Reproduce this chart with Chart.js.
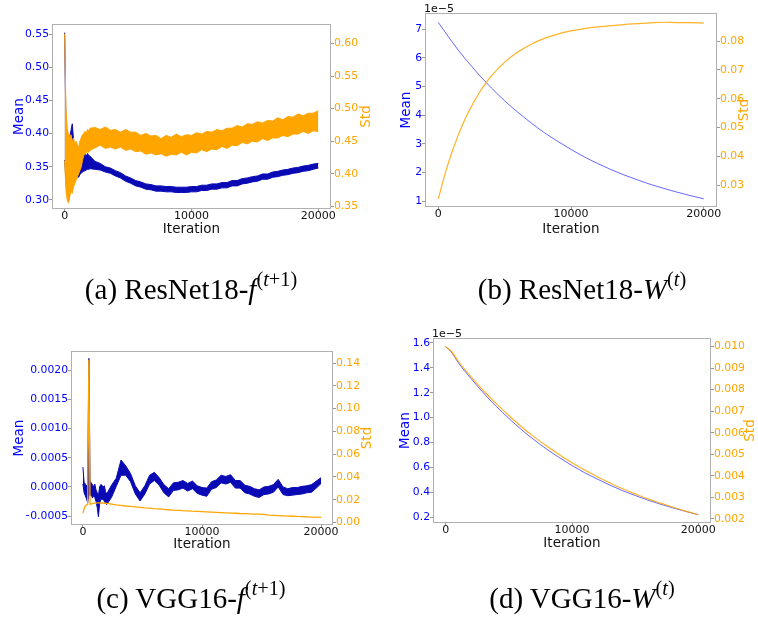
<!DOCTYPE html>
<html>
<head>
<meta charset="utf-8">
<script src="https://cdn.jsdelivr.net/npm/chart.js@4.4.1/dist/chart.umd.min.js"></script>
<style>
  html, body { margin: 0; padding: 0; background: #fff; }
  #wrap { position: relative; width: 758px; height: 622px; overflow: hidden; }
  canvas { position: absolute; left: 0; top: 0; }
  .cap { position: absolute; font-family: "Liberation Serif", "Times New Roman", serif; font-size: 29px;
         line-height: 30px; white-space: nowrap; color: #000; transform: translateX(-50%); }
  .cap .sp { font-size: 0.7em; position: relative; top: -0.62em; }
</style>
</head>
<body>
<div id="wrap">
  <canvas id="ca" width="758" height="622"></canvas>
  <canvas id="cb" width="758" height="622"></canvas>
  <canvas id="cc" width="758" height="622"></canvas>
  <canvas id="cd" width="758" height="622"></canvas>
  <div class="cap" style="left:191px;top:274px">(a) ResNet18-<i>f</i><span class="sp">(<i>t</i>+1)</span></div>
  <div class="cap" style="left:582px;top:274px">(b) ResNet18-<i>W</i><span class="sp">(<i>t</i>)</span></div>
  <div class="cap" style="left:191px;top:583px">(c) VGG16-<i>f</i><span class="sp">(<i>t</i>+1)</span></div>
  <div class="cap" style="left:582px;top:583px">(d) VGG16-<i>W</i><span class="sp">(<i>t</i>)</span></div>
</div>
<script>
const W = 758, H = 622;
const SIDE = 45, BASE = 30;

function steps(from, to, step) {
  const out = [];
  for (let v = from; v <= to; v += step) out.push(v);
  return out;
}

// iteration grids
const xTicks = [0, 10000, 20000];
const fineIter = steps(0, 2000, 100).concat(steps(2400, 20000, 400));
const bIter = [0, 500, 1000, 1500, 2000, 2500, 3000, 3500, 4000, 5000, 6000, 7000, 8000, 9000,
  10000, 11000, 12000, 13000, 14000, 15000, 16000, 17000, 18000, 19000, 20000];
const dIter = [0, 500, 1000, 2000, 3000, 4000, 5000, 6000, 7000, 8000, 9000, 10000,
  11000, 12000, 13000, 14000, 15000, 16000, 17000, 18000, 19000, 20000];

// (a) ResNet18 f : noisy bands, upper / lower edge
const aMeanHi = [0.553, 0.41, 0.40, 0.385, 0.395, 0.405, 0.415, 0.39, 0.375, 0.37, 0.372, 0.368, 0.37, 0.368, 0.37, 0.367, 0.369, 0.366, 0.37, 0.367, 0.366,
  0.358, 0.355, 0.350, 0.348, 0.344, 0.341, 0.336, 0.333, 0.329, 0.327,
  0.324, 0.323, 0.321, 0.321, 0.320, 0.320, 0.319, 0.319, 0.319, 0.320,
  0.320, 0.322, 0.322, 0.324, 0.324, 0.326, 0.326, 0.329, 0.329, 0.332,
  0.333, 0.335, 0.336, 0.339, 0.339, 0.342, 0.343, 0.345, 0.346, 0.348,
  0.349, 0.351, 0.352, 0.354, 0.355];
const aMeanLo = [0.36, 0.33, 0.31, 0.298, 0.31, 0.32, 0.325, 0.33, 0.33, 0.332, 0.335, 0.334, 0.338, 0.34, 0.342, 0.343, 0.344, 0.345, 0.346, 0.346, 0.347,
  0.346, 0.345, 0.342, 0.340, 0.336, 0.333, 0.328, 0.325, 0.321, 0.319,
  0.316, 0.315, 0.313, 0.313, 0.312, 0.312, 0.311, 0.311, 0.311, 0.312,
  0.312, 0.314, 0.314, 0.316, 0.316, 0.318, 0.318, 0.321, 0.321, 0.324,
  0.325, 0.327, 0.328, 0.331, 0.331, 0.334, 0.335, 0.337, 0.338, 0.340,
  0.341, 0.343, 0.344, 0.346, 0.348];
const aStdHi = [0.615, 0.50, 0.47, 0.46, 0.455, 0.46, 0.45, 0.455, 0.445, 0.45, 0.445, 0.44, 0.45, 0.455, 0.46, 0.462, 0.465, 0.463, 0.468, 0.466, 0.47,
  0.471, 0.468, 0.472, 0.467, 0.468, 0.464, 0.468, 0.464, 0.464, 0.459,
  0.462, 0.458, 0.459, 0.454, 0.459, 0.456, 0.461, 0.457, 0.460, 0.459,
  0.463, 0.461, 0.465, 0.464, 0.468, 0.466, 0.470, 0.470, 0.474, 0.472,
  0.477, 0.476, 0.480, 0.478, 0.482, 0.481, 0.486, 0.483, 0.488, 0.487,
  0.492, 0.489, 0.493, 0.493, 0.497];
const aStdLo = [0.42, 0.375, 0.36, 0.355, 0.365, 0.375, 0.37, 0.38, 0.385, 0.39, 0.395, 0.40, 0.405, 0.41, 0.42, 0.428, 0.43, 0.432, 0.434, 0.433, 0.436,
  0.440, 0.444, 0.439, 0.441, 0.438, 0.441, 0.436, 0.438, 0.434, 0.435,
  0.430, 0.432, 0.429, 0.431, 0.427, 0.430, 0.429, 0.433, 0.429, 0.433,
  0.432, 0.437, 0.434, 0.438, 0.437, 0.442, 0.439, 0.444, 0.443, 0.448,
  0.446, 0.450, 0.449, 0.454, 0.451, 0.455, 0.455, 0.459, 0.457, 0.461,
  0.461, 0.465, 0.462, 0.466, 0.465];

// (b) ResNet18 W : mean in units of 1e-5
const bMean = [7.23, 6.90, 6.58, 6.27, 5.98, 5.71, 5.44, 5.19, 4.95, 4.50, 4.10, 3.73, 3.39, 3.09,
  2.81, 2.55, 2.32, 2.11, 1.92, 1.75, 1.59, 1.45, 1.32, 1.20, 1.09];
const bStd = [0.0253, 0.0338, 0.0411, 0.0473, 0.0528, 0.0574, 0.0614, 0.0649, 0.0679, 0.0727, 0.0762, 0.0789, 0.0809, 0.0824,
  0.0835, 0.0843, 0.0849, 0.0853, 0.0857, 0.0860, 0.0863, 0.0865, 0.0864, 0.0864, 0.0862];

// (c) VGG16 f : mean in units of 1e-4, upper / lower edge
const cMeanHi = [3.4, 0.8, 0.5, 0.3, 0.0, 22.0, 1.0, 0.7, 0.4, 0.0, 0.5, -0.5, -1.0, -1.5, 0.0, 0.4, 0.3, 0.0, 0.2, -0.8, -1.2,
  0.3, 1.5, 4.6, 3.6, 2.3, 0.2, -1.0, 0.2, 2.0, 2.5,
  1.6, 0.4, -0.3, 0.7, 0.8, 1.1, 0.6, 1.0, 0.2, -0.1,
  -0.2, 0.9, 1.2, 2.0, 1.8, 2.1, 1.1, 1.1, 0.3, 0.1,
  -0.3, -0.5, 0.0, 0.1, 0.4, 1.3, 0.0, -0.3, -0.1, -0.1,
  0.1, 0.2, 0.4, 1.0, 1.6];
const cMeanLo = [0.5, -1.0, -1.5, -2.0, -2.7, -1.0, -1.5, -1.3, -1.9, -1.5, -1.8, -2.5, -3.5, -5.1, -3.0, -2.0, -2.2, -2.0, -2.5, -2.8, -3.0,
  -1.8, 0.1, 2.0, 2.0, 0.9, -1.2, -2.4, -1.2, 0.5, 1.1,
  0.3, -1.0, -1.7, -0.6, -0.5, -0.2, -0.7, -0.3, -1.1, -1.4,
  -1.6, -0.4, -0.1, 0.7, 0.5, 0.8, -0.2, -0.2, -1.0, -1.2,
  -1.6, -1.8, -1.3, -1.2, -0.9, 0.0, -1.3, -1.5, -1.4, -1.3,
  -1.2, -1.0, -0.9, -0.2, 0.6];
const cStd = [0.0082, 0.0120, 0.0145, 0.0155, 0.0158, 0.143, 0.0160, 0.0163, 0.0166, 0.0168, 0.0170, 0.0171, 0.0172, 0.0172, 0.0172, 0.0171, 0.0171, 0.0170, 0.0169, 0.0169, 0.0168,
  0.0162, 0.0155, 0.0150, 0.0145, 0.0141, 0.0137, 0.0133, 0.0129, 0.0126, 0.0122,
  0.0119, 0.0116, 0.0112, 0.0109, 0.0107, 0.0104, 0.0102, 0.0099, 0.0097, 0.0095,
  0.0093, 0.0091, 0.0089, 0.0087, 0.0085, 0.0083, 0.0081, 0.0079, 0.0078, 0.0076,
  0.0074, 0.0073, 0.0071, 0.0064, 0.0062, 0.0060, 0.0058, 0.0056, 0.0055, 0.0053,
  0.0052, 0.0050, 0.0048, 0.0047, 0.0045];

// (d) VGG16 W : mean in units of 1e-5
const dMean = [1.57, 1.52, 1.442, 1.315, 1.198, 1.091, 0.995, 0.904, 0.822, 0.747, 0.679, 0.616,
  0.558, 0.507, 0.458, 0.414, 0.375, 0.338, 0.305, 0.275, 0.247, 0.221];
const dStd = [0.01000, 0.00975, 0.00932, 0.00861, 0.00795, 0.00735, 0.00680, 0.00628, 0.00581, 0.00538, 0.00498, 0.00461,
  0.00427, 0.00396, 0.00367, 0.00340, 0.00316, 0.00293, 0.00273, 0.00254, 0.00236, 0.00220];

// tick values and labels
const aMeanTicks = [0.30, 0.35, 0.40, 0.45, 0.50, 0.55];
const aMeanLabels = ['0.30', '0.35', '0.40', '0.45', '0.50', '0.55'];
const aStdTicks = [0.35, 0.40, 0.45, 0.50, 0.55, 0.60];
const aStdLabels = ['0.35', '0.40', '0.45', '0.50', '0.55', '0.60'];
const bMeanTicks = [1, 2, 3, 4, 5, 6, 7];
const bMeanLabels = ['1', '2', '3', '4', '5', '6', '7'];
const bStdTicks = [0.03, 0.04, 0.05, 0.06, 0.07, 0.08];
const bStdLabels = ['0.03', '0.04', '0.05', '0.06', '0.07', '0.08'];
const cMeanTicks = [-5, 0, 5, 10, 15, 20];
const cMeanLabels = ['\u22120.0005', '0.0000', '0.0005', '0.0010', '0.0015', '0.0020'];
const cStdTicks = [0, 0.02, 0.04, 0.06, 0.08, 0.10, 0.12, 0.14];
const cStdLabels = ['0.00', '0.02', '0.04', '0.06', '0.08', '0.10', '0.12', '0.14'];
const dMeanTicks = [0.2, 0.4, 0.6, 0.8, 1.0, 1.2, 1.4, 1.6];
const dMeanLabels = ['0.2', '0.4', '0.6', '0.8', '1.0', '1.2', '1.4', '1.6'];
const dStdTicks = [0.002, 0.003, 0.004, 0.005, 0.006, 0.007, 0.008, 0.009, 0.010];
const dStdLabels = ['0.002', '0.003', '0.004', '0.005', '0.006', '0.007', '0.008', '0.009', '0.010'];

const BLUE = 'blue';
const DARKBLUE = '#0a0ab4';
const ORANGE = '#ffa500';
const FONT = 'DejaVu Sans';

function yAxis(pos, range, vals, labels, color) {
  return {
    type: 'linear', position: pos, min: range[0], max: range[1],
    afterBuildTicks: s => { s.ticks = vals.map(v => ({ value: v })); },
    afterFit: s => { s.width = SIDE; },
    grid: { drawOnChartArea: false, tickLength: 3, color: '#999' },
    border: { display: false },
    ticks: { color: color, padding: 0, autoSkip: false, font: { family: FONT, size: 10.8 },
      callback: (v, i) => labels[i] }
  };
}

function xAxis() {
  return {
    type: 'linear', position: 'bottom', min: -1000, max: 21000,
    afterBuildTicks: s => { s.ticks = xTicks.map(v => ({ value: v })); },
    afterFit: s => { s.height = BASE; },
    grid: { drawOnChartArea: false, tickLength: 3, color: '#999' },
    border: { display: false },
    ticks: { color: '#111', padding: -1, maxRotation: 0, autoSkip: false,
      font: { family: FONT, size: 11, lineHeight: 1 }, callback: v => String(v) }
  };
}

function line(iter, vals, color, width, axisId, extra) {
  return Object.assign({
    data: iter.map((x, i) => ({ x: x, y: vals[i] })),
    yAxisID: axisId, borderColor: color, backgroundColor: color,
    borderWidth: width, pointRadius: 0, fill: false, tension: 0
  }, extra || {});
}

// frame, axis titles and offset text
const deco = {
  id: 'deco',
  afterDraw(chart, args, o) {
    const ctx = chart.ctx, a = chart.chartArea;
    const l = Math.round(a.left) + 0.5, t = Math.round(a.top) + 0.5;
    const r = Math.round(a.right) - 0.5, b = Math.round(a.bottom) - 0.5;
    ctx.save();
    ctx.strokeStyle = '#b0b0b0';
    ctx.lineWidth = 1;
    ctx.strokeRect(l, t, r - l, b - t);
    ctx.font = '13.5px "' + FONT + '"';
    ctx.textAlign = 'center';
    ctx.textBaseline = 'middle';
    const cy = (a.top + a.bottom) / 2;
    const vtext = (txt, x, color) => {
      ctx.save();
      ctx.translate(x, cy);
      ctx.rotate(-Math.PI / 2);
      ctx.fillStyle = color;
      ctx.fillText(txt, 0, 0);
      ctx.restore();
    };
    vtext('Mean', a.left + o.mean, BLUE);
    vtext('Std', a.right + o.std, ORANGE);
    ctx.fillStyle = '#111';
    ctx.fillText('Iteration', (a.left + a.right) / 2, a.bottom + o.iter);
    if (o.exp) {
      ctx.font = '11px "' + FONT + '"';
      ctx.textAlign = 'left';
      ctx.textBaseline = 'alphabetic';
      ctx.fillText(o.exp, a.left - 1, a.top - 1);
    }
    ctx.restore();
  }
};

function panel(id, area, datasets, yL, yR, decoOpts) {
  new Chart(document.getElementById(id), {
    type: 'line',
    data: { datasets: datasets },
    options: {
      responsive: false,
      animation: false,
      events: [],
      layout: { padding: { left: area[0] - SIDE, top: area[1], right: W - area[2] - SIDE, bottom: H - area[3] - BASE } },
      plugins: { legend: { display: false }, tooltip: { enabled: false }, deco: decoOpts },
      scales: { x: xAxis(), y: yL, y1: yR }
    },
    plugins: [deco]
  });
}

// (a)
panel('ca', [52, 24, 331, 209], [
  line(fineIter, aStdHi, ORANGE, 1, 'y1', { fill: '+1' }),
  line(fineIter, aStdLo, ORANGE, 1, 'y1'),
  line(fineIter, aMeanHi, DARKBLUE, 1, 'y', { fill: '+1' }),
  line(fineIter, aMeanLo, DARKBLUE, 1, 'y')
], yAxis('left', [0.286, 0.566], aMeanTicks, aMeanLabels, BLUE),
   yAxis('right', [0.346, 0.630], aStdTicks, aStdLabels, ORANGE),
   { mean: -33, std: 35, iter: 20 });

// (b)
panel('cb', [425, 13, 717, 207], [
  line(bIter, bStd, 'rgba(255,165,0,0.85)', 1.2, 'y1', { cubicInterpolationMode: 'monotone' }),
  line(bIter, bMean, 'rgba(40,40,255,0.7)', 1, 'y', { cubicInterpolationMode: 'monotone' })
], yAxis('left', [0.805, 7.557], bMeanTicks, bMeanLabels, BLUE),
   yAxis('right', [0.0225, 0.0897], bStdTicks, bStdLabels, ORANGE),
   { mean: -18.5, std: 27, iter: 22, exp: '1e\u22125' });

// (c)
panel('cc', [71, 351, 333, 525], [
  line(fineIter, cStd, ORANGE, 1.3, 'y1'),
  line(fineIter, cMeanHi, DARKBLUE, 1, 'y', { fill: '+1' }),
  line(fineIter, cMeanLo, DARKBLUE, 1, 'y')
], yAxis('left', [-6.51, 23.26], cMeanTicks, cMeanLabels, BLUE),
   yAxis('right', [-0.0022, 0.1506], cStdTicks, cStdLabels, ORANGE),
   { mean: -52, std: 34, iter: 19 });

// (d)
panel('cd', [433, 338, 711, 523], [
  line(dIter, dStd, 'rgba(255,165,0,0.85)', 1.2, 'y1', { cubicInterpolationMode: 'monotone' }),
  line(dIter, dMean, 'rgba(40,40,255,0.7)', 1, 'y', { cubicInterpolationMode: 'monotone' })
], yAxis('left', [0.154, 1.640], dMeanTicks, dMeanLabels, BLUE),
   yAxis('right', [0.00181, 0.0104], dStdTicks, dStdLabels, ORANGE),
   { mean: -27.5, std: 39.5, iter: 20, exp: '1e\u22125' });
</script>
</body>
</html>
